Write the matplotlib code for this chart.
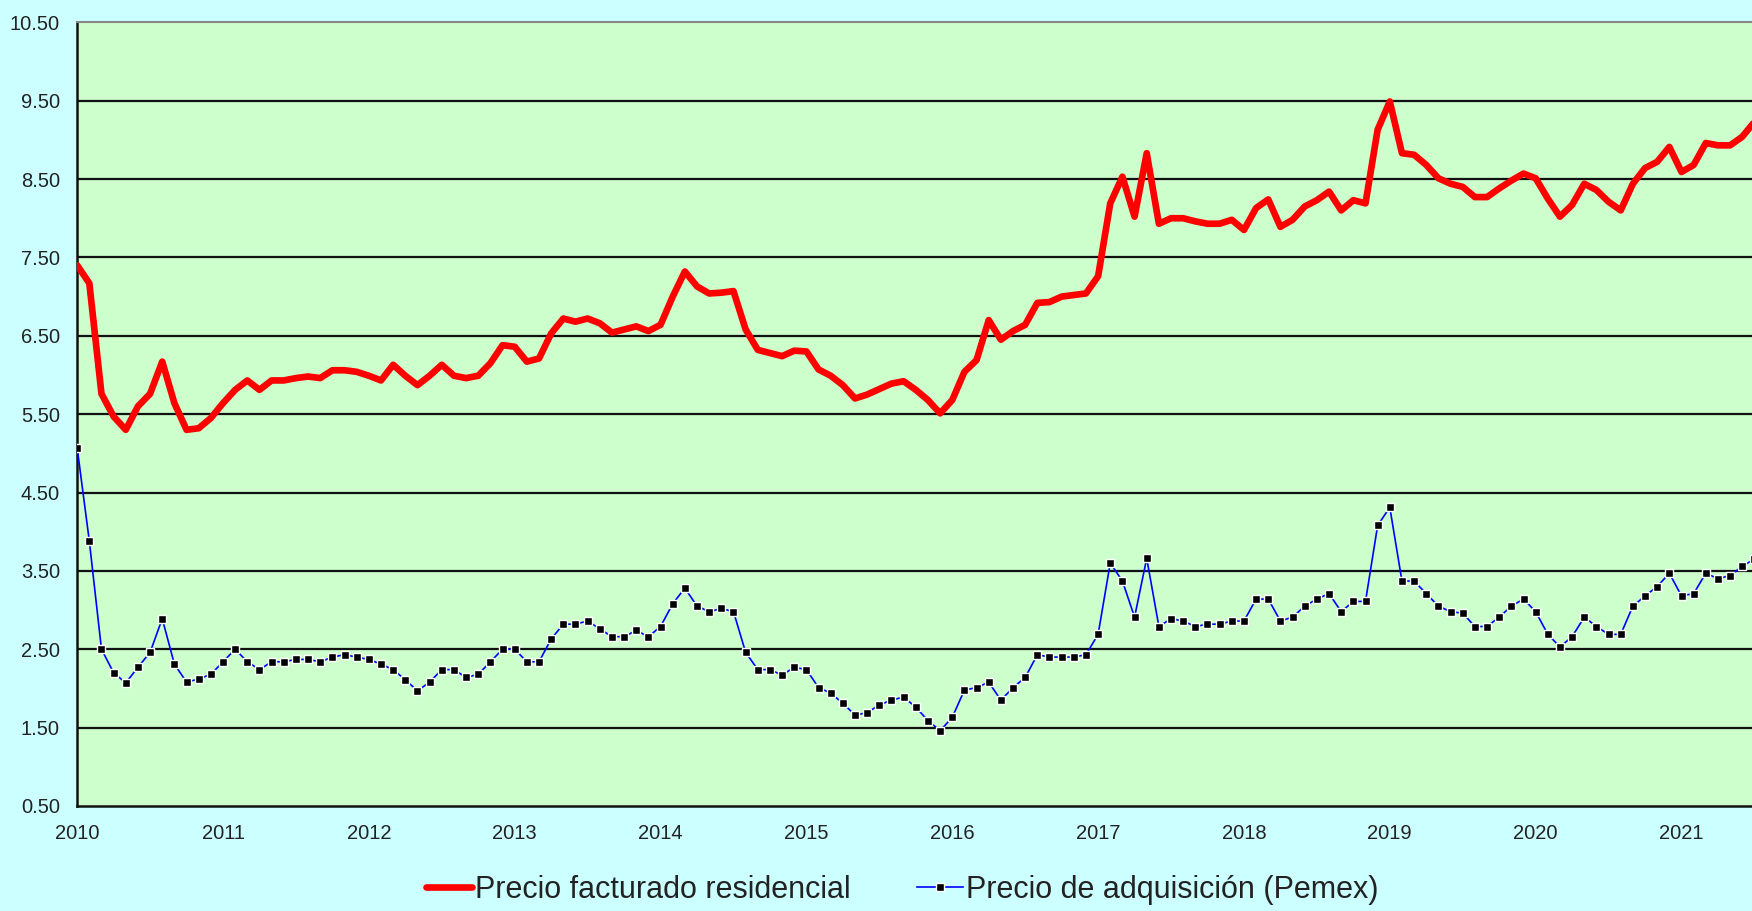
import matplotlib
matplotlib.use("Agg")
import matplotlib.pyplot as plt
import numpy as np

plt.rcParams["font.family"] = ["Liberation Sans", "DejaVu Sans"]

# monthly values, Jan 2010 onwards
residencial = [
    7.40, 7.17, 5.76, 5.47, 5.30, 5.60, 5.76, 6.17, 5.64, 5.30, 5.32, 5.45,
    5.64, 5.81, 5.93, 5.81, 5.93, 5.93, 5.96, 5.98, 5.96, 6.06, 6.06, 6.04,
    5.99, 5.93, 6.13, 5.99, 5.87, 5.99, 6.13, 5.99, 5.96, 5.99, 6.15, 6.38,
    6.36, 6.17, 6.21, 6.53, 6.72, 6.68, 6.72, 6.66, 6.54, 6.58, 6.62, 6.56,
    6.64, 7.00, 7.32, 7.13, 7.04, 7.05, 7.07, 6.58, 6.32, 6.28, 6.24, 6.31,
    6.30, 6.07, 5.99, 5.87, 5.70, 5.75, 5.82, 5.89, 5.92, 5.81, 5.68, 5.51,
    5.68, 6.04, 6.19, 6.70, 6.45, 6.56, 6.64, 6.92, 6.93, 7.00, 7.02, 7.04,
    7.26, 8.19, 8.53, 8.02, 8.83, 7.93, 8.00, 8.00, 7.96, 7.93, 7.93, 7.98,
    7.85, 8.13, 8.24, 7.89, 7.98, 8.15, 8.23, 8.34, 8.10, 8.23, 8.19, 9.13,
    9.49, 8.83, 8.81, 8.68, 8.51, 8.44, 8.40, 8.27, 8.27, 8.38, 8.48, 8.57,
    8.51, 8.25, 8.02, 8.17, 8.44, 8.36, 8.21, 8.10, 8.44, 8.64, 8.72, 8.91,
    8.59, 8.68, 8.96, 8.93, 8.93, 9.04, 9.23,
]

pemex = [
    5.07, 3.88, 2.50, 2.20, 2.07, 2.27, 2.46, 2.89, 2.31, 2.08, 2.12, 2.18,
    2.34, 2.50, 2.34, 2.24, 2.34, 2.34, 2.37, 2.37, 2.34, 2.40, 2.43, 2.40,
    2.37, 2.31, 2.24, 2.11, 1.97, 2.08, 2.24, 2.24, 2.14, 2.18, 2.34, 2.50,
    2.50, 2.34, 2.34, 2.63, 2.82, 2.82, 2.86, 2.76, 2.66, 2.66, 2.74, 2.66,
    2.79, 3.08, 3.28, 3.05, 2.98, 3.02, 2.98, 2.46, 2.24, 2.24, 2.17, 2.27,
    2.24, 2.01, 1.94, 1.81, 1.66, 1.69, 1.79, 1.85, 1.89, 1.76, 1.59, 1.46,
    1.63, 1.98, 2.01, 2.08, 1.85, 2.01, 2.14, 2.43, 2.40, 2.40, 2.40, 2.43,
    2.69, 3.60, 3.37, 2.91, 3.66, 2.79, 2.89, 2.86, 2.79, 2.82, 2.82, 2.86,
    2.86, 3.14, 3.14, 2.86, 2.91, 3.05, 3.14, 3.21, 2.98, 3.11, 3.11, 4.08,
    4.31, 3.37, 3.37, 3.21, 3.05, 2.98, 2.96, 2.79, 2.79, 2.91, 3.05, 3.14,
    2.98, 2.69, 2.53, 2.66, 2.91, 2.79, 2.69, 2.69, 3.05, 3.18, 3.30, 3.47,
    3.18, 3.21, 3.47, 3.40, 3.44, 3.56, 3.65,
]

years = list(range(2010, 2022))
y_ticks = [0.5, 1.5, 2.5, 3.5, 4.5, 5.5, 6.5, 7.5, 8.5, 9.5, 10.5]

TEXT = "#222222"

fig = plt.figure(figsize=(17.52, 9.11), dpi=100, facecolor="#CCFFFF")
ax = fig.add_axes([0.0437, 0.1153, 0.9563, 0.8602])
ax.set_facecolor("#CCFFCC")

months = np.arange(len(residencial))

for v in y_ticks[1:-1]:
    ax.axhline(v, color="#111111", lw=1.6, zorder=1)

ax.plot(months, residencial, color="#FF0000", lw=4.8,
        solid_joinstyle="round", solid_capstyle="round", zorder=3,
        label="Precio facturado residencial")
ax.plot(months, pemex, color="#0000FF", lw=1.2, marker="s", ms=5.4,
        mfc="black", mec="white", mew=1.0, zorder=4,
        label="Precio de adquisición (Pemex)")

ax.set_xlim(-0.05, 137.8)
ax.set_ylim(0.5, 10.5)

ax.set_yticks(y_ticks)
ax.set_yticklabels([f"{v:.2f}" for v in y_ticks])
ax.set_xticks([12 * i for i in range(len(years))])
ax.set_xticklabels([str(y) for y in years])
ax.tick_params(axis="y", length=0, pad=12, labelsize=14.5, labelcolor=TEXT)
ax.tick_params(axis="x", length=0, pad=13, labelsize=14.5, labelcolor=TEXT)

ax.spines["right"].set_visible(False)
ax.spines["left"].set_color("#111111")
ax.spines["left"].set_linewidth(1.8)
ax.spines["bottom"].set_color("#111111")
ax.spines["bottom"].set_linewidth(1.8)
ax.spines["top"].set_color("#888888")
ax.spines["top"].set_linewidth(1.5)

leg = fig.legend(loc="center", bbox_to_anchor=(0.515, 0.023), ncol=2,
                 frameon=False, fontsize=22, handlelength=1.5,
                 handletextpad=0.1, columnspacing=2.2)
for t in leg.get_texts():
    t.set_color(TEXT)

fig.savefig("out.png", dpi=100, facecolor=fig.get_facecolor())
